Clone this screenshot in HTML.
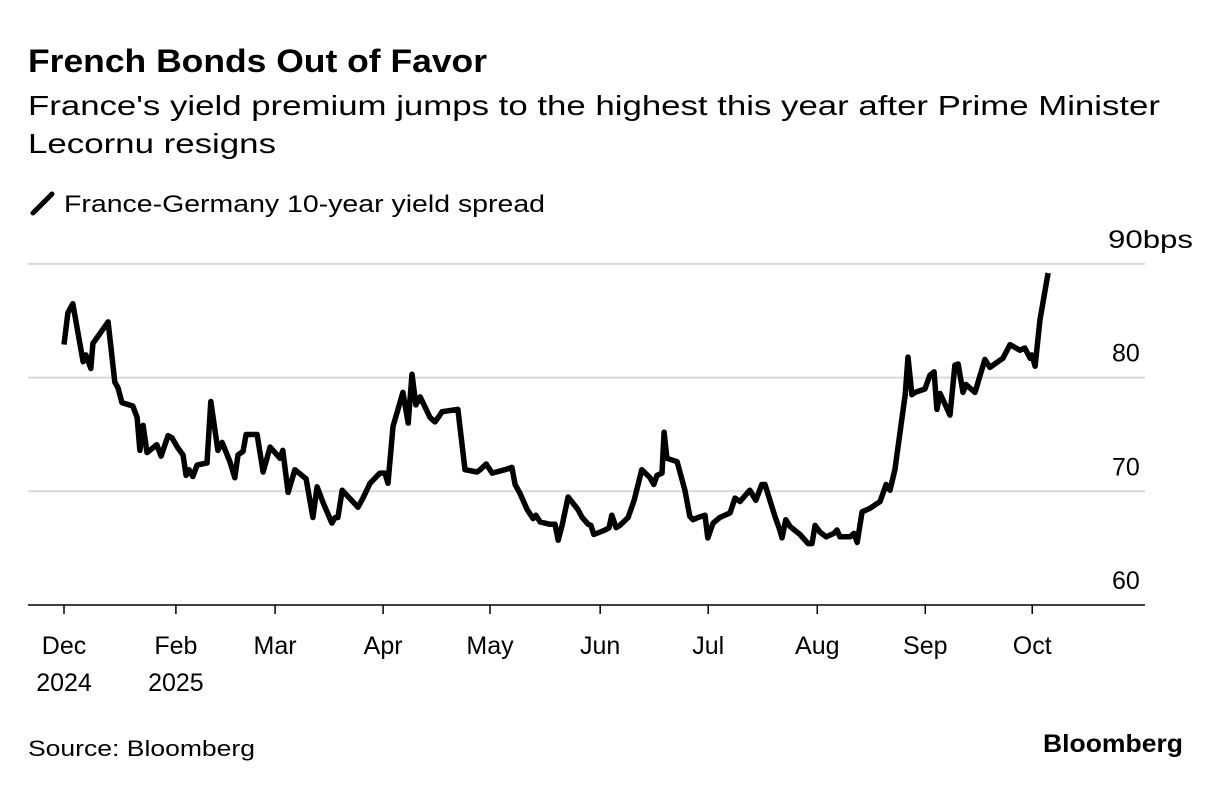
<!DOCTYPE html>
<html><head><meta charset="utf-8"><style>
body{margin:0;background:#fff;width:1221px;height:788px;overflow:hidden;font-family:"Liberation Sans",sans-serif;color:#000}
svg text{font-family:"Liberation Sans",sans-serif}
</style></head><body>
<svg id="chart" width="1221" height="788" xmlns="http://www.w3.org/2000/svg">
<text x="28" y="72" font-size="32" font-weight="bold" textLength="459" lengthAdjust="spacingAndGlyphs">French Bonds Out of Favor</text>
<text x="28" y="115" font-size="28" textLength="1132" lengthAdjust="spacingAndGlyphs">France's yield premium jumps to the highest this year after Prime Minister</text>
<text x="28" y="153" font-size="28" textLength="248" lengthAdjust="spacingAndGlyphs">Lecornu resigns</text>
<line x1="33" y1="213" x2="52" y2="194" stroke="#000" stroke-width="5" stroke-linecap="round"/>
<text x="64" y="212" font-size="24" textLength="481" lengthAdjust="spacingAndGlyphs">France-Germany 10-year yield spread</text>
<g id="grid"></g><g id="xaxis"></g>
<path id="line" fill="none" stroke="#000" stroke-width="5.5" stroke-linejoin="round"/>
<text x="28" y="756" font-size="22" textLength="227" lengthAdjust="spacingAndGlyphs">Source: Bloomberg</text>
<text x="1043" y="752" font-size="25" font-weight="bold" textLength="140" lengthAdjust="spacingAndGlyphs">Bloomberg</text>
</svg>
<script>
const days=[0,1.1,2.5,5.4,6.2,7.6,8.2,12.5,14.4,15.3,16.4,19.5,20.7,21.5,22.4,23.5,26.3,27.5,29.5,30.6,32.3,33.7,34.6,35.4,36.5,37.7,40.5,41.6,43.6,44.8,47,48.4,49.3,50.7,51.6,54.7,56.4,58.4,61.2,62,63.5,65.4,68.6,70.5,71.7,73.4,75.9,76.8,77.6,78.8,83.3,84.7,86.7,89.5,90.9,91.8,93.2,96,97.5,98.6,99.7,100.9,103.7,105.1,106.5,107.1,111.6,113.6,117,117.9,119.6,121.3,124.9,126.9,127.8,129.2,131.2,132.9,133.7,134.9,137.7,139.1,140,141.1,142.8,145.6,146.8,148.5,149.3,150.1,153.3,154.4,155.2,156.4,157.5,159.8,161.5,163.7,166,167.1,168,169.4,170,170.8,173.7,175.9,177.3,178.2,179.6,181.6,182.4,183.9,185.8,188.7,190.1,191.5,194.3,196,197.7,198.6,201.4,202.8,203.4,204.5,205.7,208.5,210.8,211.9,212.8,214.2,215.9,218.1,219,219.8,222.7,223.8,224.7,226.1,228.3,231.2,232.9,234,235.4,236.8,238.3,239.1,240.2,241.1,243.9,245.3,246.5,247.3,248.2,251,252.4,253.3,254.7,255.5,258.1,260.9,262.3,266,268,270.8,272.2,273.7,274.2,275.1,276.5,278.8];
const spread=[82.9,85.7,86.5,81.4,82,80.8,83,84.9,79.6,79.1,77.8,77.5,76.5,73.6,75.8,73.4,74.1,73.1,74.9,74.7,73.8,73.2,71.4,71.9,71.3,72.3,72.5,77.9,73.6,74.3,72.6,71.2,73.2,73.5,75,75,71.7,73.9,72.9,73.6,69.9,71.9,71.1,67.7,70.4,69,67.2,67.7,67.7,70.1,68.6,69.4,70.7,71.6,71.6,70.7,75.7,78.7,76,80.3,77.6,78.3,76.5,76.1,76.7,77,77.2,71.9,71.7,71.9,72.4,71.6,71.9,72.1,70.6,69.8,68.4,67.6,67.9,67.3,67.1,67.1,65.7,67,69.5,68.4,67.7,67.1,67,66.2,66.6,66.8,67.9,66.8,67,67.7,69.2,71.9,71.2,70.6,71.4,71.6,75.2,72.9,72.6,70.1,67.8,67.5,67.7,67.9,65.9,67.2,67.7,68.1,69.4,69.1,70.1,69.2,70.6,70.6,67.8,66.6,65.9,67.5,66.9,66.2,65.4,65.4,67,66.4,66,66.3,66.6,66,66,66.3,65.5,68.2,68.5,69.1,70.6,70.1,71.9,75.1,78.5,81.8,78.5,78.7,79,80.2,80.5,77.2,78.6,76.7,81.1,81.2,78.7,79.4,78.7,81.6,80.9,81.7,82.9,82.4,82.6,81.7,82,81,85.1,89.2];
const yTicks=[60,70,80,90];
const yTickLabels=["60","70","80","90bps"];
const xTickDays=[0,31.7,59.8,90.4,120.7,151.9,182.5,213.4,244,274.3];
const xTickLabels=[["Dec","2024"],["Feb","2025"],["Mar"],["Apr"],["May"],["Jun"],["Jul"],["Aug"],["Sep"],["Oct"]];
const NS="http://www.w3.org/2000/svg";
const xs=d=>64+d/0.2833;
const ys=v=>605-(v-60)*11.37;
const grid=document.getElementById('grid');
yTicks.forEach((t,i)=>{
  if(i>0){
    const l=document.createElementNS(NS,'line');
    
    
    l.setAttribute('x1',28);l.setAttribute('x2',1145);l.setAttribute('y1',ys(t));l.setAttribute('y2',ys(t));
    l.setAttribute('stroke','#d9d9d9');l.setAttribute('stroke-width','2');
    grid.appendChild(l);
  }
  const tx=document.createElementNS(NS,'text');
  
  
  tx.setAttribute('x',i==3?1108:1112);tx.setAttribute('y',ys(t)-16);tx.setAttribute('font-size','25');
  if(i==3){tx.setAttribute('textLength','85');tx.setAttribute('lengthAdjust','spacingAndGlyphs');}
  tx.textContent=yTickLabels[i];
  grid.appendChild(tx);
});
const xa=document.getElementById('xaxis');
const base=document.createElementNS(NS,'line');


base.setAttribute('x1',28);base.setAttribute('x2',1145);base.setAttribute('y1',605);base.setAttribute('y2',605);
base.setAttribute('stroke','#000');base.setAttribute('stroke-width','1.5');
xa.appendChild(base);
xTickDays.forEach((d,i)=>{
  const x=xs(d);
  const t=document.createElementNS(NS,'line');
  
  
  t.setAttribute('x1',x);t.setAttribute('x2',x);t.setAttribute('y1',605);t.setAttribute('y2',614);
  t.setAttribute('stroke','#000');t.setAttribute('stroke-width','1.5');
  xa.appendChild(t);
  xTickLabels[i].forEach((s,j)=>{
    const tx=document.createElementNS(NS,'text');
    
    
    tx.setAttribute('x',x);tx.setAttribute('y',654+j*37);tx.setAttribute('font-size','25');tx.setAttribute('text-anchor','middle');
    tx.textContent=s;
    xa.appendChild(tx);
  });
});
document.getElementById('line').setAttribute('d',days.map((d,i)=>(i?'L':'M')+xs(d).toFixed(1)+','+ys(spread[i]).toFixed(1)).join(''));
</script>
</body></html>
